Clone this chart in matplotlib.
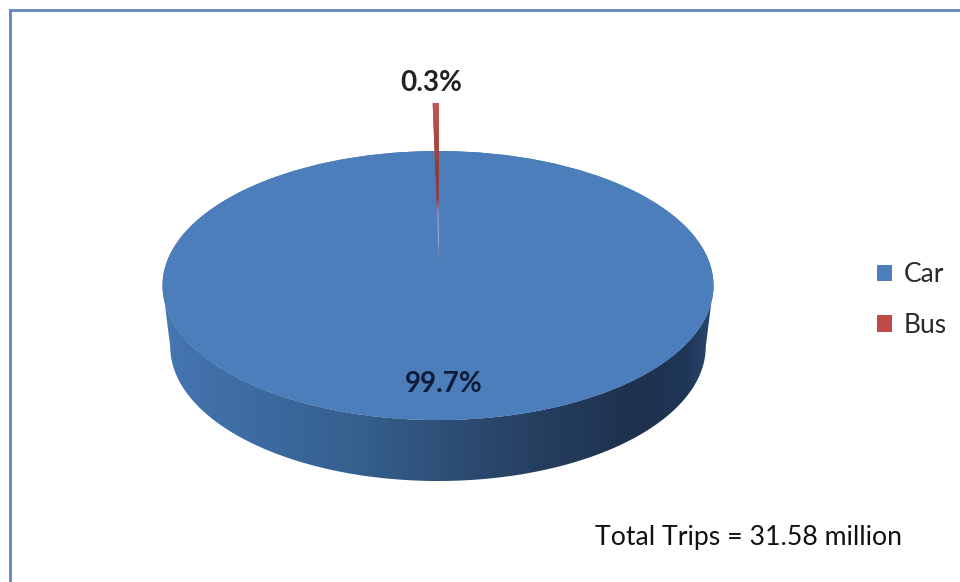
import numpy as np
import matplotlib
matplotlib.use("Agg")
import matplotlib.pyplot as plt
from matplotlib.colors import LinearSegmentedColormap
from matplotlib.lines import Line2D
from matplotlib.patches import Polygon, Ellipse

categories = ["Car", "Bus"]
shares = [99.7, 0.3]
note = "Total Trips = 31.58 million"

W, H = 960, 582
CX, CY, RX, RY = 438, 285.5, 275.5, 134.5
DEPTH = 61 / RY
BASE_RX = 0.972

plt.rcParams["font.family"] = ["Lato", "DejaVu Sans"]
fig = plt.figure(figsize=(W / 100, H / 100), dpi=100, facecolor="white")
ax = fig.add_axes([0, 0, 1, 1])
xlim = (-CX / RX, (W - CX) / RX)
ylim = (-(H - CY) / RY, CY / RY)

# top face of the disc, with the Bus slice pulled out as a spike
wedges, _ = ax.pie(shares, colors=["#4c7ebb", "#be4b48"], startangle=90,
                   counterclock=False, radius=1, wedgeprops=dict(linewidth=0))
for w in wedges:
    w.set_zorder(3)
ax.set_aspect("auto")
# closes the gap the pulled-out slice leaves in the face
ax.add_patch(Ellipse((0, 0), 2, 2, facecolor="#4c7ebb", edgecolor="none", zorder=2))

# side wall
t = np.linspace(np.pi, 2 * np.pi, 200)
side = np.r_[np.c_[BASE_RX * np.cos(t), np.sin(t) - DEPTH],
             np.c_[np.cos(t[::-1]), np.sin(t[::-1])]]
poly = Polygon(side, closed=True, facecolor="none", edgecolor="none",
               transform=ax.transData)
ax.add_patch(poly)
side_cmap = LinearSegmentedColormap.from_list("side", [
    (0.0, "#4676b0"), (0.12, "#3f6ea6"), (0.35, "#35608f"), (0.5, "#2f5078"),
    (0.68, "#263f60"), (0.85, "#1e324f"), (0.95, "#1f3555"), (1.0, "#2a4a72")])
im = ax.imshow(np.linspace(0, 1, 256)[None, :], cmap=side_cmap, aspect="auto",
               extent=(-1, 1, -1 - DEPTH, 0), zorder=1, interpolation="bilinear")
im.set_clip_path(poly)

# Bus spike
bus = wedges[1]
tip = (CY - 262) / RY
top = (CY - 103) / RY
bus.set_center((0.003, tip))
bus.set_radius(top - tip)
spike_cmap = LinearSegmentedColormap.from_list("spike", [
    (0.0, "#c0555a"), (0.28, "#a8443c"), (0.42, "#8a3f36"), (0.6, "#80405a"),
    (0.68, "#6f8fc4"), (0.85, "#9cc6ef"), (1.0, "#6f9fd6")])
sp = ax.imshow(np.linspace(0, 1, 256)[:, None], cmap=spike_cmap, aspect="auto",
               extent=(-0.1, 0.1, tip, top), zorder=4, interpolation="bilinear")
sp.set_clip_path(bus)

ax.set_xlim(*xlim)
ax.set_ylim(*ylim)
ax.axis("off")

# value labels
fig.text(431 / W, 1 - 83 / H, f"{shares[1]}%", ha="center", va="center",
         fontsize=20, fontweight="bold", color="#222222")
fig.text(444 / W, 1 - 384 / H, f"{shares[0]}%", ha="center", va="center",
         fontsize=20, fontweight="bold", color="#0e1c38", zorder=6)
fig.text(595 / W, 1 - 537 / H, note, ha="left", va="center",
         fontsize=19.2, color="#111111")

# legend
fig.legend(wedges, categories, loc="center left",
           bbox_to_anchor=(877 / W, 1 - 300 / H), frameon=False, fontsize=19,
           handlelength=0.58, handleheight=0.58, handletextpad=0.42,
           labelspacing=0.98, labelcolor="#2a2a2a", borderpad=0, borderaxespad=0)

# chart frame
frame = "#5f86bd"
fig.add_artist(Line2D([10 / W, 1], [1 - 9.5 / H] * 2, color=frame, lw=2))
fig.add_artist(Line2D([10 / W] * 2, [0, 1 - 9.5 / H], color=frame, lw=2))

fig.savefig("out.png", dpi=100, facecolor="white")
